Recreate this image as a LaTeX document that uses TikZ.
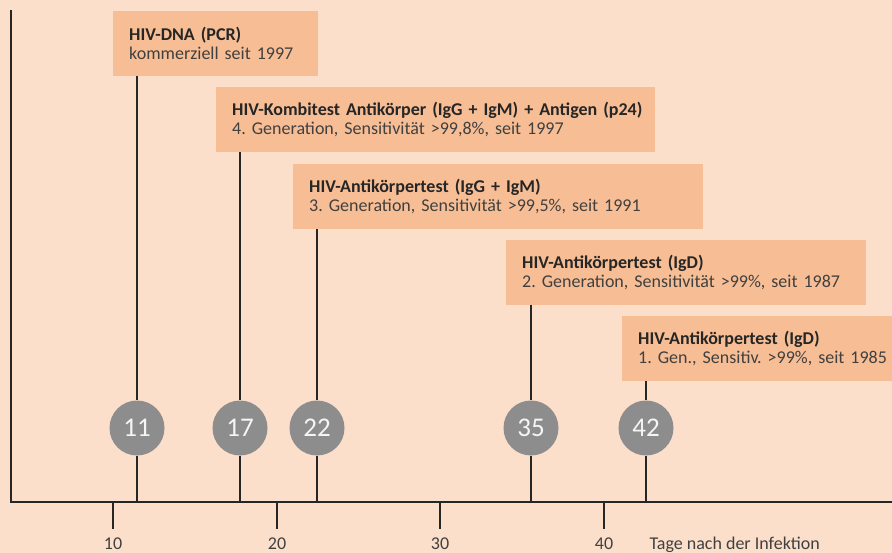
\documentclass[tikz,border=0pt]{standalone}
\usepackage{fontspec}
\setmainfont{Carlito}
\frenchspacing
\definecolor{bgpeach}{RGB}{251,223,203}
\definecolor{boxpeach}{RGB}{247,190,149}
\definecolor{dotgray}{RGB}{141,141,141}
\definecolor{linedark}{RGB}{38,38,38}
\definecolor{subgray}{RGB}{64,64,64}
\newcommand{\boxtext}[2]{\hspace*{8pt}{\color{linedark}\bfseries #1}\\\hspace*{8pt}#2}
\begin{document}
\begin{tikzpicture}[x=1pt,y=-1pt,
  infobox/.style={fill=boxpeach, anchor=north west, minimum height=65pt, inner xsep=8pt, inner ysep=0pt, text width=#1, align=left, font=\fontsize{18}{19}\selectfont, text=subgray},
  daycircle/.style={circle, fill=dotgray, minimum size=55pt, inner sep=0pt, text=white!96!black, font=\fontsize{27}{27}\selectfont},
  stem/.style={draw=linedark, line width=2pt},
  axisline/.style={draw=linedark, line width=2.5pt},
  tick/.style={draw=linedark, line width=2pt},
  ticklabel/.style={anchor=base, text=subgray, font=\fontsize{18}{18}\selectfont}]
\fill[bgpeach] (0,0) rectangle (892,553);
\useasboundingbox (0,0) rectangle (892,553);

\coordinate (o) at (11,502);
\coordinate (ytop) at (11,10);
\coordinate (xend) at (892,502);

\node[infobox=189pt] (pcr) at (113,11) {\boxtext{HIV-DNA (PCR)}{kommerziell seit 1997}};
\node[infobox=423pt] (kombi) at (216,87) {\boxtext{HIV-Kombitest Antikörper (IgG + IgM) + Antigen (p24)}{4. Generation, Sensitivität >99,8\%, seit 1997}};
\node[infobox=394pt] (gen3) at (293,164) {\boxtext{HIV-Antikörpertest (IgG + IgM)}{3. Generation, Sensitivität >99,5\%, seit 1991}};
\node[infobox=344pt] (gen2) at (506,240) {\boxtext{HIV-Antikörpertest (IgD)}{2. Generation, Sensitivität >99\%, seit 1987}};
\node[infobox=280pt] (gen1) at (622,316) {\boxtext{HIV-Antikörpertest (IgD)}{1. Gen., Sensitiv. >99\%, seit 1985}};

\node[daycircle] (c11) at (137,428) {11};
\node[daycircle] (c17) at (240,428) {17};
\node[daycircle] (c22) at (317,428) {22};
\node[daycircle] (c35) at (531,428) {35};
\node[daycircle] (c42) at (646,428) {42};

      \draw[stem] (c11 |- pcr.south) -- (c11);
      \draw[stem] (c17 |- kombi.south) -- (c17);
      \draw[stem] (c22 |- gen3.south) -- (c22);
      \draw[stem] (c35 |- gen2.south) -- (c35);
      \draw[stem] (c42 |- gen1.south) -- (c42);

      \foreach \c in {c11,c17,c22,c35,c42}
        \draw[stem] (\c) -- (\c |- o);

      \draw[axisline] (ytop) -- (o) -- (xend);

      \foreach \x/\lab in {113/10,277/20,440/30,604/40}{
        \draw[tick] (\x,502) -- (\x,529);
        \node[ticklabel] (t\lab) at (\x,549) {\lab};
      }
\node[ticklabel, anchor=base west] (unit) at (646,549) {Tage nach der Infektion};
\end{tikzpicture}
\end{document}
